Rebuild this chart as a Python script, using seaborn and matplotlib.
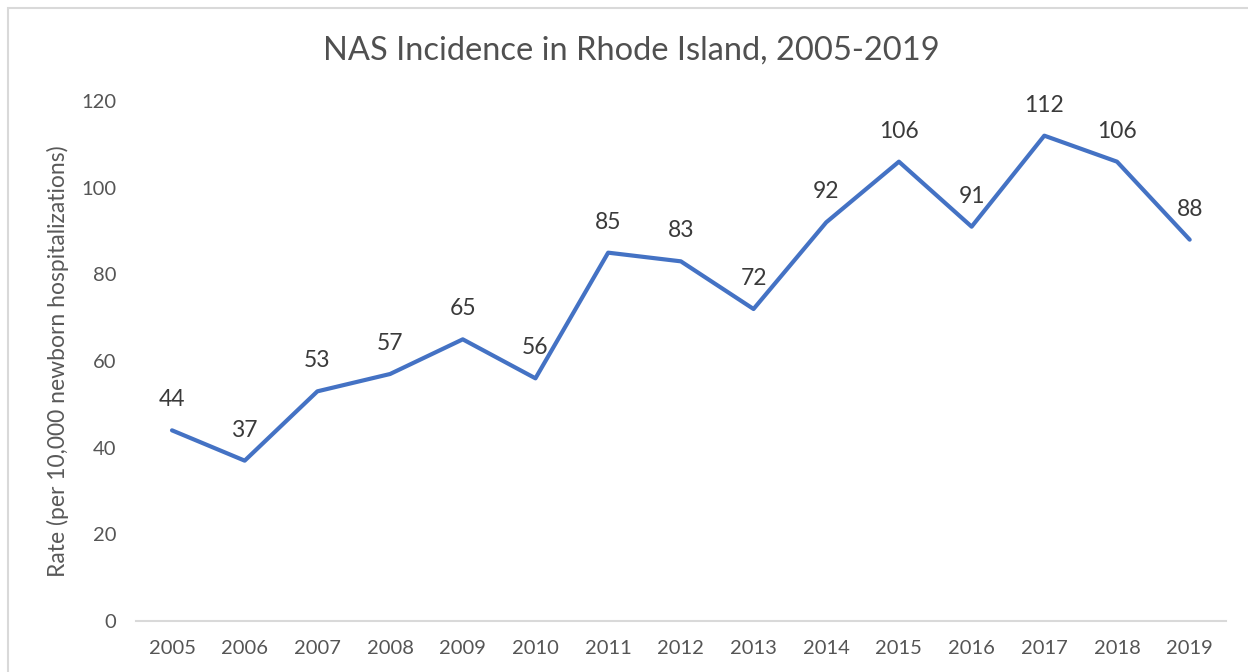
import matplotlib
matplotlib.use("Agg")
import matplotlib.pyplot as plt
import seaborn as sns
import pandas as pd
from matplotlib.patches import Rectangle

years = [2005, 2006, 2007, 2008, 2009, 2010, 2011, 2012, 2013, 2014, 2015, 2016, 2017, 2018, 2019]
rates = [44, 37, 53, 57, 65, 56, 85, 83, 72, 92, 106, 91, 112, 106, 88]
yticks = [0, 20, 40, 60, 80, 100, 120]
title = "NAS Incidence in Rhode Island, 2005-2019"
ylabel = "Rate (per 10,000 newborn hospitalizations)"

sns.set_theme(style="white")
plt.rcParams['font.family'] = ['Lato', 'DejaVu Sans']

df = pd.DataFrame({"year": years, "rate": rates})

DPI = 100
fig = plt.figure(figsize=(12.48, 6.72), dpi=DPI)
ax = fig.add_axes([0.1087, 0.0759, 0.8737, 0.7738])

sns.lineplot(data=df, x="year", y="rate", ax=ax, color="#4472C4", linewidth=3.0)

ax.set_xlim(years[0] - 0.5, years[-1] + 0.5)
ax.set_ylim(0, 120)
ax.set_xticks(years)
ax.set_xticklabels([str(y) for y in years])
ax.set_yticks(yticks)
ax.tick_params(axis='both', length=0, labelsize=14.5, colors="#555555")
ax.tick_params(axis='x', pad=14)
ax.tick_params(axis='y', pad=14)

for s in ["top", "right", "left"]:
    ax.spines[s].set_visible(False)
ax.spines["bottom"].set_color("#D9D9D9")
ax.spines["bottom"].set_linewidth(1.5)
ax.grid(False)

ax.set_xlabel("")
ax.set_ylabel(ylabel, fontsize=16.5, color="#595959", labelpad=9)

for x, v in zip(years, rates):
    ax.annotate(str(v), (x, v), xytext=(0, 22), textcoords="offset points",
                ha="center", va="center", fontsize=16.5, color="#3A3A3A")

fig.text(0.506, 0.925, title, ha="center", va="center", fontsize=23.5, color="#505050")

fig.patches.append(Rectangle((8 / 1248, -0.5), 1.5, 1.5 - 8 / 672,
                             transform=fig.transFigure, fill=False,
                             edgecolor="#D9D9D9", linewidth=1.5))

fig.savefig("out.png", dpi=DPI)
